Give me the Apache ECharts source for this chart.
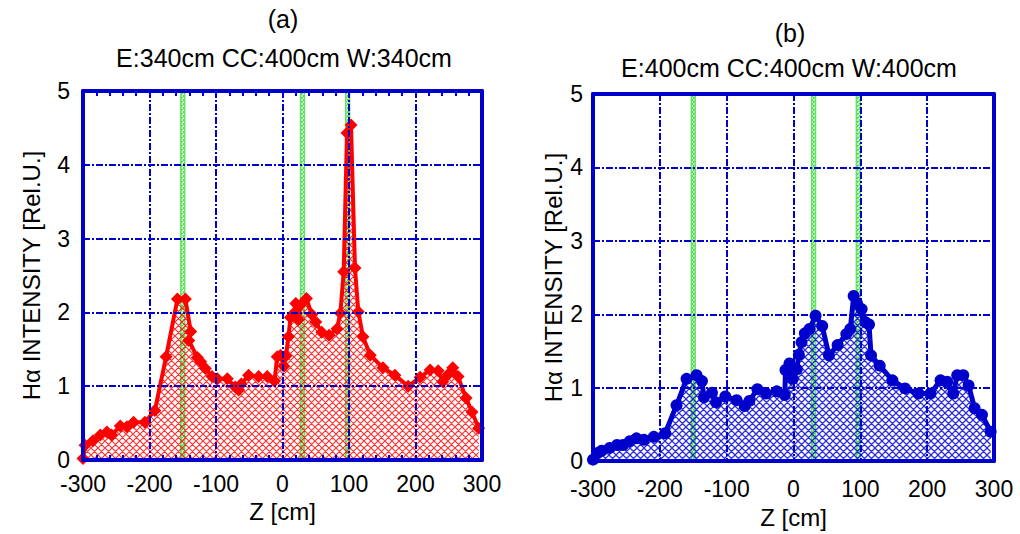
<!DOCTYPE html>
<html>
<head>
<meta charset="utf-8">
<title>H-alpha intensity profiles</title>
<script src="https://cdn.jsdelivr.net/npm/echarts@6/dist/echarts.min.js"></script>
<style>
  html, body { margin: 0; padding: 0; background: #ffffff; }
  #chart { width: 1020px; height: 534px; }
</style>
</head>
<body>
<div id="chart"></div>
<script>
// Panel (a): E 340 cm, CC 400 cm, W 340 cm
const zA = [-300, -297, -285, -274, -264, -257, -244, -234, -224, -207, -192, -175, -158, -146, -138, -141,
  -128, -123, -116, -106, -98, -83, -71, -66, -62, -51, -36, -23, -12, -8, -3, 2, 5, 9, 12, 17, 20, 24, 27,
  36, 44, 50, 59, 70, 82, 87, 92, 97, 103, 109, 114, 121, 132, 151, 169, 189, 207, 222, 234, 241, 249, 256,
  264, 276, 285, 295];
const intensityA = [0.02, 0.2, 0.26, 0.34, 0.38, 0.34, 0.46, 0.45, 0.51, 0.51, 0.67, 1.4, 2.18, 2.18, 1.74, 1.62,
  1.39, 1.33, 1.24, 1.13, 1.1, 1.1, 0.99, 0.95, 1.03, 1.15, 1.13, 1.13, 1.07, 1.4, 1.42, 1.27, 1.41, 1.67, 1.93,
  1.99, 2.12, 1.9, 2.1, 2.19, 1.97, 1.87, 1.73, 1.69, 1.78, 1.99, 2.55, 4.43, 4.54, 2.6, 2.01, 1.67, 1.42, 1.25,
  1.15, 1.0, 1.12, 1.22, 1.21, 1.06, 1.16, 1.25, 1.13, 0.84, 0.65, 0.43];

// Panel (b): E 400 cm, CC 400 cm, W 400 cm
const zB = [-300, -293, -287, -275, -264, -255, -245, -235, -224, -209, -192, -175, -160, -145, -137, -134,
  -122, -116, -102, -85, -73, -66, -54, -41, -25, -13, -12, -6, -1, 5, 8, 12, 17, 24, 33, 43, 53, 66, 79, 85,
  90, 95, 102, 108, 113, 116, 129, 148, 167, 187, 205, 220, 230, 239, 245, 254, 262, 271, 282, 295];
const intensityB = [0.02, 0.11, 0.14, 0.18, 0.22, 0.22, 0.27, 0.31, 0.29, 0.33, 0.38, 0.76, 1.12, 1.17, 1.09, 0.87,
  0.93, 0.8, 0.88, 0.83, 0.75, 0.82, 0.98, 0.92, 0.95, 0.9, 1.24, 1.33, 1.12, 1.25, 1.45, 1.62, 1.74, 1.8, 1.98,
  1.84, 1.44, 1.58, 1.73, 1.8, 2.25, 2.15, 2.07, 1.89, 1.86, 1.44, 1.3, 1.1, 0.99, 0.92, 0.92, 1.1, 1.08, 0.92,
  1.17, 1.17, 1.03, 0.72, 0.63, 0.4];

// Positions of the marked structures along Z (cm)
const bandsA = [-150, 30, 98];
const bandsB = [-150, 30, 97];

// Axis ranges and tick spacing
const zRange = [-300, 300];
const zStep = 100;
const intensityRange = [0, 5];
const intensityStep = 1;

const headingA = ['(a)', 'E:340cm CC:400cm W:340cm'];
const headingB = ['(b)', 'E:400cm CC:400cm W:400cm'];
const zName = 'Z [cm]';
const intensityName = 'H\u03b1 INTENSITY [Rel.U.]';

const FONT = '"Liberation Sans", Arial, Helvetica, sans-serif';
const FRAME = '#0000cc';

function crossHatch(color, size, width) {
  const c = document.createElement('canvas');
  c.width = size; c.height = size;
  const g = c.getContext('2d');
  g.strokeStyle = color;
  g.lineWidth = width;
  g.beginPath();
  for (let k = -1; k <= 1; k++) {
    g.moveTo(k * size, 0); g.lineTo(k * size + size, size);
    g.moveTo(k * size + size, 0); g.lineTo(k * size, size);
  }
  g.stroke();
  return { image: c, repeat: 'repeat', imageWidth: size, imageHeight: size };
}

function pairs(xs, ys) { return xs.map((x, i) => [x, ys[i]]); }

const gridLine = { show: true, lineStyle: { color: FRAME, width: 2, type: [7, 2, 2, 2] } };

function bottomAxis(gi, labelMargin, nameGap, minor) {
  return {
    type: 'value', gridIndex: gi, position: 'bottom',
    min: zRange[0], max: zRange[1], interval: zStep,
    name: zName, nameLocation: 'middle', nameGap: nameGap,
    nameTextStyle: { color: '#000', fontSize: 24, fontFamily: FONT },
    axisLine: { show: true, onZero: false, lineStyle: { color: FRAME, width: 4 } },
    axisTick: { show: minor, inside: true, length: 5, lineStyle: { color: FRAME, width: 2 } },
    minorTick: { show: minor, splitNumber: 5, length: 5, lineStyle: { color: FRAME, width: 2 } },
    axisLabel: { color: '#000', fontSize: 23, fontFamily: FONT, margin: labelMargin },
    splitLine: gridLine,
    z: 5
  };
}
function topAxis(gi, minor) {
  return {
    type: 'value', gridIndex: gi, position: 'top',
    min: zRange[0], max: zRange[1], interval: zStep,
    axisLine: { show: true, onZero: false, lineStyle: { color: FRAME, width: 4 } },
    axisTick: { show: minor, inside: true, length: 5, lineStyle: { color: FRAME, width: 2 } },
    minorTick: { show: minor, splitNumber: 5, length: 5, lineStyle: { color: FRAME, width: 2 } },
    axisLabel: { show: false }, splitLine: { show: false },
    z: 5
  };
}
function leftAxis(gi, labelMargin, nameGap) {
  return {
    type: 'value', gridIndex: gi, position: 'left',
    min: intensityRange[0], max: intensityRange[1], interval: intensityStep,
    name: intensityName, nameLocation: 'middle', nameGap: nameGap,
    nameTextStyle: { color: '#000', fontSize: 24, fontFamily: FONT },
    axisLine: { show: true, onZero: false, lineStyle: { color: FRAME, width: 4 } },
    axisTick: { show: false },
    axisLabel: { color: '#000', fontSize: 23, fontFamily: FONT, margin: labelMargin },
    splitLine: gridLine,
    z: 5
  };
}
function rightAxis(gi) {
  return {
    type: 'value', gridIndex: gi, position: 'right',
    min: intensityRange[0], max: intensityRange[1], interval: intensityStep,
    axisLine: { show: true, onZero: false, lineStyle: { color: FRAME, width: 4 } },
    axisTick: { show: false }, axisLabel: { show: false }, splitLine: { show: false },
    z: 5
  };
}

function bandArea(centres) {
  return {
    silent: true,
    itemStyle: { color: crossHatch('rgba(60,220,60,0.95)', 4, 1.2), borderColor: '#66e066', borderWidth: 1.4 },
    data: centres.map(c => [{ xAxis: c - 3 }, { xAxis: c + 3 }])
  };
}

const chart = echarts.init(document.getElementById('chart'), null, { renderer: 'svg' });

const titleStyle = { fontSize: 25, fontWeight: 'normal', color: '#000', fontFamily: FONT };

const option = {
  backgroundColor: '#ffffff',
  animation: false,
  title: [
    { text: headingA[0], left: 283, top: 6, textAlign: 'center', padding: 0, textStyle: titleStyle },
    { text: headingA[1], left: 284, top: 45, textAlign: 'center', padding: 0, textStyle: titleStyle },
    { text: headingB[0], left: 790, top: 20, textAlign: 'center', padding: 0, textStyle: titleStyle },
    { text: headingB[1], left: 789, top: 55, textAlign: 'center', padding: 0, textStyle: titleStyle }
  ],
  grid: [
    { left: 83, top: 91, width: 399, height: 369 },
    { left: 593, top: 94, width: 401, height: 369 }
  ],
  xAxis: [
    bottomAxis(0, 12, 37, true), topAxis(0, true),
    bottomAxis(1, 16, 42, false), topAxis(1, false)
  ],
  yAxis: [
    leftAxis(0, 13, 40), rightAxis(0),
    leftAxis(1, 10, 28), rightAxis(1)
  ],
  series: [
    {
      type: 'line', xAxisIndex: 0, yAxisIndex: 0,
      data: pairs(zA, intensityA),
      symbol: 'diamond', symbolSize: 13,
      lineStyle: { color: '#ff0000', width: 4 },
      itemStyle: { color: '#ff0000' },
      areaStyle: { color: crossHatch('rgba(255,0,0,0.8)', 7, 1.2), opacity: 1 },
      markArea: bandArea(bandsA),
      z: 3
    },
    {
      type: 'line', xAxisIndex: 2, yAxisIndex: 2,
      data: pairs(zB, intensityB),
      symbol: 'circle', symbolSize: 12,
      lineStyle: { color: '#0000cc', width: 5 },
      itemStyle: { color: '#0000cc' },
      areaStyle: { color: crossHatch('rgba(10,10,210,0.85)', 7, 1.3), opacity: 1 },
      markArea: bandArea(bandsB),
      z: 3
    }
  ]
};

chart.setOption(option);
</script>
</body>
</html>
